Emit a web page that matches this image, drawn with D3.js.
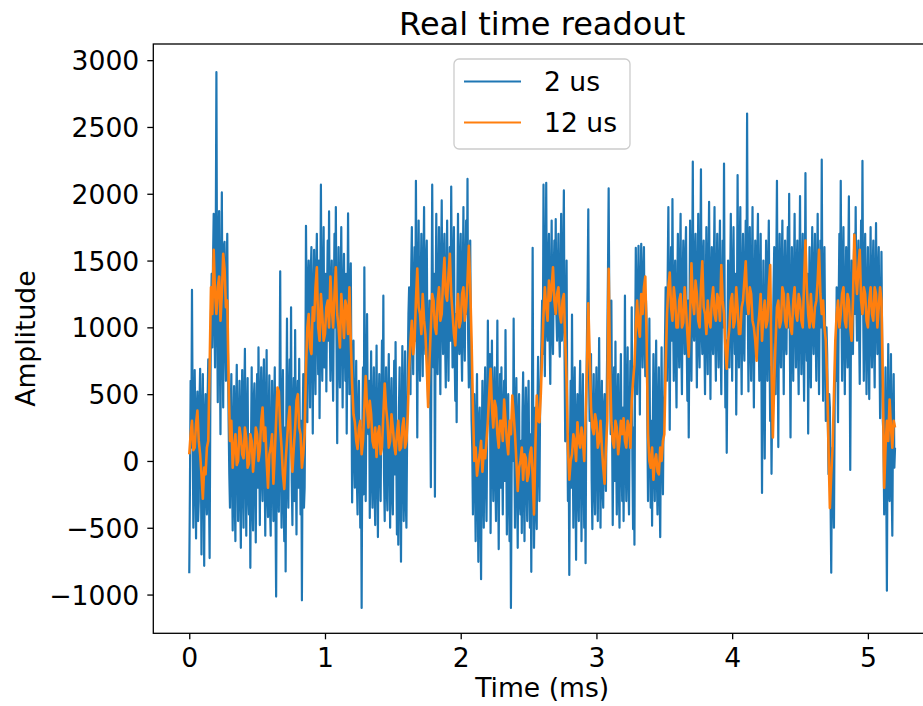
<!doctype html>
<html>
<head>
    <meta charset="utf-8"/>
    <style>
        body { margin: 0; background: #fff; }
        svg { display: block; }
        text { font-family: "DejaVu Sans", sans-serif; fill: #000; }
    </style>
    <script src="https://d3js.org/d3.v7.min.js"></script>
</head>
<body>
<svg width="923" height="706"></svg>
<script>
    // sample spacing (ms) of the two traces as plotted
    var step2us = 0.005;
    var step12us = 0.01;

    // 2 us integration trace, one row per 0.1 ms
    var amp2us = [
        -840, -200, 600, 100, 1280, 300, -500, -100, 680, 200, -580, 350, 520, -450, -300, 400, 690, 100, -700, 250,
        650, 0, -785, 300, 500, -250, -400, 450, 760, -200, -727, 400, 1100, 1400, 850, 1500, 1850, 1100, 700, 1600,
        2910, 1200, 440, 1500, 1870, 900, 200, 1300, 2010, 1000, 400, 1600, 1640, 900, 600, 1400, 1700, 800, 300, -100,
        -350, 300, 650, -100, -520, 200, 560, -300, -600, 400, 720, 50, -450, 250, 600, -200, -650, 350, 680, -150,
        -500, 450, 840, 0, -560, 300, 620, -250, -400, 200, -800, 100, 700, -300, -520, 450, 580, -100, -610, 300,
        650, -200, 850, 200, -480, 400, 700, -100, -300, 500, 760, 0, -560, 350, 830, -250, -420, 300, 640, -350,
        -560, 200, 600, -150, -450, 350, 700, -300, -1015, 100, 520, -200, -380, 400, 1420, 0, -500, 300, 680, -250,
        -600, 250, -827, 300, 1065, -100, -350, 450, 760, 200, 1150, -150, -480, 350, 620, -300, 980, 100, -550, 400,
        600, -200, 764, 150, -400, 300, -1043, 200, 650, -350, -200, 500, 1760, 1100, 290, 1300, 1500, 800, 400, 1400,
        1600, 900, 205, 1200, 1580, 800, 500, 1400, 1700, 1000, 650, 1500, 320, 1100, 2068, 900, 600, 1300, 1750, 700,
        700, 1400, 520, 1200, 1650, 900, 1868, 1000, 600, 1300, 1500, 800, 450, 1200, 1700, 1000, 1900, 900, 133, 1100,
        1600, 800, 550, 1300, 1750, 1000, 400, 1200, 1550, 900, 600, 1400, 205, 1000, 1853, 1100, 500, 1250, 1480, 600,
        -311, 300, 900, 100, -200, 400, 750, -150, -400, 350, 600, 0, -500, 250, -1100, 200, 700, -250, 1450, 400,
        -300, 500, 1100, 300, 200, 600, -426, 250, 820, -100, -350, 400, 700, -200, -480, 300, 864, 50, -570, 350,
        650, 0, -300, 400, 900, 200, 1237, -100, -450, 300, 700, -200, -370, 450, 800, 100, -500, 350, 620, -250,
        -400, 300, 750, -100, 890, 150, -550, 200, -627, 400, 700, -200, -754, 250, 860, 0, -450, 450, 820, -300,
        -500, 200, 700, 1100, 1300, 800, 500, 1400, 1750, 1000, 650, 1300, 1600, 900, 2097, 1100, 176, 1200, 1800, 900,
        600, 1300, 1700, 1000, 635, 1400, 1900, 900, 800, 1500, 1650, 700, 434, 900, 1200, 500, -196, 1000, 2068, 1200,
        700, 1400, -268, 1100, 1850, 900, 650, 1300, 1750, 1000, 500, 1400, 1950, 1100, 800, 1500, 1700, 900, 550, 1300,
        1800, 1000, 600, 1300, 1600, 900, 2054, 1200, 700, 1400, 1750, 800, 450, 1100, 290, 1200, 1850, 1000, 800, 1500,
        1700, 900, 600, 1300, 1900, 1000, 750, 1400, 1800, 1100, 2111, 900, 550, 1200, 1650, 800, 300, 100, -400, 200,
        500, -100, -600, 250, 650, -200, -755, 300, 400, -350, -885, 100, 600, -150, -500, 350, 700, -100, -450, 200,
        1050, 400, 300, 800, -540, 200, 900, 100, -300, 450, 700, -100, -450, 300, 1050, 0, -660, 250, 650, -200,
        700, 100, -400, 350, 600, -150, 980, 200, -550, 300, 500, -250, -600, 200, -1100, -100, 400, 0, 1065, 150,
        -500, 200, 620, -100, -650, 300, 500, -300, -400, 150, -540, 350, 663, -200, -600, 250, 550, -150, -450, 300,
        600, -100, -500, 200, -830, 400, 1595, 100, -650, -200, 400, -300, -510, 350, 780, 0, -300, 450, 650, 900,
        1200, 800, 2068, 1100, 634, 1300, 2082, 1000, 900, 1500, 1700, 900, 577, 1300, 1800, 1000, 800, 1400, 1650, 1100,
        1810, 1100, 900, 1400, 1700, 1000, 780, 1300, 1850, 900, 1000, 1500, 2025, 800, 147, 1000, 1500, 400, -300, 200,
        -853, 100, 600, -200, 1095, 200, -500, 350, 700, -100, -740, 300, 500, -250, -450, 400, 750, 0, -600, 250,
        650, -100, -500, 200, -765, 400, 900, 1300, 1883, 700, 300, 500, 800, -150, -510, 300, 650, -200, -400, 350,
        700, 0, -450, 350, 920, 100, -500, 300, 600, -200, -350, 400, 500, -100, -225, 450, 900, 1400, 2040, 1100,
        700, 200, 1200, 300, -480, 250, 700, -150, 893, 100, -400, 350, 650, -200, -500, 300, 800, 0, -300, 400,
        -450, 200, 1237, 100, -300, 400, 850, -100, -400, 300, 750, 200, 1150, 0, -510, 250, -627, 800, 1595, 1100,
        500, 1200, 1610, 900, 347, 1300, 1625, 1000, 700, 1400, 1600, 900, 635, 1200, 1000, 300, -300, 400, 1065, 100,
        -350, 300, -485, 200, 800, 0, -300, 450, 900, -100, -400, 350, 700, -200, -570, 250, 850, 100, -250, 400,
        500, 900, 1300, 800, 600, 1400, 1900, 1000, 233, 1200, 1600, 900, 1960, 1100, 600, 1300, 1500, 800, 400, 1200,
        1700, 1000, 700, 1400, 1850, 900, 500, 1300, 1650, 1100, 800, 1500, 1750, 900, 450, 1200, 176, 1000, 1800, 1100,
        600, 1300, 2240, 1000, 900, 1500, 1700, 1100, 550, 1300, 1850, 900, 700, 1400, 2183, 1000, 800, 1500, 1650, 900,
        500, 1200, 1750, 1000, 650, 1400, 1940, 1100, 463, 1300, 1600, 900, 800, 1450, 1900, 1000, 600, 1300, 1700, 1000,
        700, 1400, 1800, 900, 500, 1200, 1650, 1000, 2226, 1100, 400, 900, 61, 800, 1500, 1000, 700, 1300, 1850, 1100,
        600, 1300, 1750, 1100, 800, 1400, 347, 1000, 2140, 1200, 700, 1500, 1900, 1000, 500, 1300, 1700, 900, 750, 1400,
        1800, 1100, 2600, 1200, 520, 1300, 1750, 900, 600, 1400, 1900, 1000, 400, 1200, 1650, 900, 800, 1500, 1850, 1000,
        600, 1300, 1700, 800, -240, 900, 1500, 700, 18, 1000, 1650, 1100, 600, 1400, 1800, 900, 300, 700, -96, 500,
        900, 1300, 1600, 1000, 500, 1400, 2097, 1000, 104, 1200, 1700, 900, 700, 1450, 1800, 1100, 500, 1300, 1650, 900,
        800, 1400, 1750, 1000, 2000, 900, 176, 1100, 1600, 1000, 600, 1300, 1850, 1100, 700, 1400, 1650, 900, 500, 1300,
        1982, 1100, 650, 1300, 1700, 900, 450, 1200, 2154, 1000, 750, 1400, 205, 1000, 1600, 900, 550, 1300, 1750, 1000,
        800, 1400, 1700, 1000, 600, 1300, 1850, 1100, 500, 1200, 1650, 1000, 2255, 1100, 450, 1200, 1600, 900, 300, 1000,
        800, 300, -100, 500, 400, -300, -836, 0, 100, -200, -500, 400, 900, 600, 1300, 800, 290, 1200, 1700, 1000,
        2097, 1200, 600, 1300, 1750, 1000, 500, 1200, 1600, 900, 700, 1400, 1980, 1000, -67, 900, 1500, 1100, 800, 1400,
        1700, 1100, 1900, 1200, 900, 1400, 1650, 1000, 577, 1300, 1800, 1100, 2246, 1200, 600, 1300, 1700, 1000, 500, 1200,
        1600, 900, 463, 1200, 1750, 1000, 700, 1400, 1650, 900, 550, 1300, 1780, 1100, 800, 1400, 1600, 900, 320, 1100,
        1566, 900, 300, 200, -400, 300, 700, -100, -971, 200, 875, -200, -300, 400, 800, -150, -560, 300, 650, -50,
        100
    ];

    // 12 us integration trace, one row per 0.1 ms
    var amp12us = [
        50, 200, 300, 80, 100, 280, 377, 150, 50, -100,
        -283, -50, -100, 100, 150, 700, 1300, 1100, 1580, 1250,
        1100, 1300, 1380, 1050, 1250, 1550, 1440, 1150, 1200, 600,
        150, 300, -50, 100, 200, -30, 0, 250, 180, 50,
        20, 250, 170, -50, -20, 200, 150, -80, 50, 250,
        200, 0, 80, 300, 400, 150, 250, 0, -200, 50,
        100, 200, -170, 50, 300, 550, 520, 250, 100, -100,
        -210, 0, 150, 300, 405, 100, -80, 100, 250, 450,
        500, 250, 200, -50, 50, 200, 700, 1000, 1100, 850,
        800, 1150, 1050, 1300, 1450, 1000, 900, 1250, 1100, 900,
        950, 1150, 1200, 1000, 1380, 1150, 1000, 1250, 1450, 1100,
        1000, 850, 1250, 1100, 920, 1200, 1150, 950, 1300, 900,
        580, 350, 290, 150, 90, 250, 300, 50, 150, 400,
        635, 400, 250, 450, 350, 150, 100, 250, 30, 200,
        260, 50, 100, 350, 580, 400, 300, 100, 150, 350,
        250, 120, 50, 200, 300, 80, 100, 250, 320, 100,
        150, 350, 700, 900, 1050, 800, 900, 1200, 1440, 1150,
        1100, 950, 1250, 1050, 950, 700, 405, 750, 1000, 1250,
        1200, 1000, 950, 1200, 1300, 1050, 1100, 1350, 1520, 1250,
        1200, 1400, 1550, 1250, 1100, 950, 864, 1100, 1250, 1000,
        1050, 1250, 1300, 1050, 1150, 1350, 1610, 1300, 900, 400,
        0, 100, -110, -20, 50, 150, -80, 80, 20, 150,
        300, 500, 690, 400, 250, 450, 400, 200, 100, 300,
        300, 150, 460, 300, 150, 50, 300, 200, 490, 350,
        200, 0, -225, -50, 0, 100, -140, 50, 20, -150,
        -100, 50, 100, -100, -400, 100, 490, 300, 290, 500,
        800, 1100, 1300, 1150, 1050, 1350, 1200, 1300, 1450, 1200,
        1100, 1250, 1300, 1100, 1036, 1200, 1250, 900, 600, 100,
        -140, 0, 50, 200, 150, 0, 290, 150, 100, 250,
        150, 0, 320, 700, 1180, 800, 400, 250, 200, 350,
        290, 100, 150, 300, 100, -50, -170, 100, 300, 1438,
        700, 290, 150, 100, 300, 250, 50, 150, 300, 200,
        320, 150, 100, 300, 250, 100, 450, 600, 720, 1000,
        1200, 1000, 930, 1250, 1100, 1300, 1380, 900, 200, 0,
        -50, 100, -140, 0, 50, -80, -100, 100, 0, 150,
        200, 700, 1100, 1300, 1410, 1150, 1050, 1300, 1200, 1000,
        1000, 1200, 1250, 1000, 1036, 1300, 1150, 950, 780, 1100,
        1480, 1200, 1100, 1350, 1250, 1050, 1000, 1300, 1495, 1150,
        1100, 950, 1200, 1050, 1000, 1200, 1300, 1100, 1050, 1250,
        1200, 1050, 1466, 1200, 1100, 850, 690, 900, 1000, 1200,
        1250, 1000, 1050, 1300, 1150, 950, 950, 1150, 1200, 1350,
        1495, 1200, 1100, 1300, 1250, 1050, 1000, 900, 750, 1000,
        1100, 1250, 900, 1100, 1200, 1000, 1050, 1300, 1466, 700,
        176, 600, 900, 1150, 1200, 1000, 1050, 1300, 1250, 1050,
        1000, 1250, 1150, 1000, 950, 1200, 1300, 1100, 1050, 1250,
        1200, 1050, 1000, 1350, 1650, 1300, 1100, 1000, 1250, 1050,
        1000, 1150, 1200, 1350, 1580, 1250, 1100, 1200, 1000, 900,
        600, 100, -352, -100, 100, 500, 900, 1100, 1200, 1000,
        1100, 1250, 1300, 1050, 1000, 1250, 1200, 1000, 900, 1200,
        1693, 1400, 1250, 1450, 1580, 1200, 1100, 1300, 1250, 1050,
        1000, 1200, 1300, 1100, 1050, 1300, 1250, 1000, 1150, 1300,
        1200, 600, -200, 100, 300, 150, 460, 250, 100, 300,
        250
    ];

    var seriesNames = ["2 us", "12 us"];
    var seriesColors = ["#1f77b4", "#ff7f0e"];
    var xTicks = [0, 1, 2, 3, 4, 5];
    var yTicks = [-1000, -500, 0, 500, 1000, 1500, 2000, 2500, 3000];

    var svg = d3.select("svg");

    // axes box (right edge falls just outside the picture)
    var boxL = 153.3, boxR = 931, boxT = 44, boxB = 633.3;

    var x = d3.scaleLinear().domain([-0.265, 5.465]).range([boxL, boxR]);
    var y = d3.scaleLinear().domain([-1290, 3121]).range([boxB, boxT]);

    svg.append("clipPath").attr("id", "plotclip")
        .append("rect")
        .attr("x", boxL).attr("y", boxT)
        .attr("width", boxR - boxL).attr("height", boxB - boxT);

    var traces = [
        amp2us.map(function(v, i) { return [i * step2us, v]; }),
        amp12us.map(function(v, i) { return [i * step12us, v]; })
    ];
    var widths = [2.2, 2.6];

    var line = d3.line()
        .x(function(d) { return x(d[0]); })
        .y(function(d) { return y(d[1]); });

    svg.append("g").attr("clip-path", "url(#plotclip)")
        .selectAll("path")
        .data(traces)
        .join("path")
        .attr("d", line)
        .attr("fill", "none")
        .attr("stroke", function(d, i) { return seriesColors[i]; })
        .attr("stroke-width", function(d, i) { return widths[i]; })
        .attr("stroke-linejoin", "round");

    // spines
    svg.append("rect")
        .attr("x", boxL).attr("y", boxT)
        .attr("width", boxR - boxL).attr("height", boxB - boxT)
        .attr("fill", "none")
        .attr("stroke", "#000")
        .attr("stroke-width", 1.3);

    var fmt = d3.format("d");

    var xAxis = svg.append("g")
        .attr("transform", "translate(0," + boxB + ")")
        .call(d3.axisBottom(x).tickValues(xTicks).tickFormat(fmt)
            .tickSize(6).tickSizeOuter(0).tickPadding(9));

    var yAxis = svg.append("g")
        .attr("transform", "translate(" + boxL + ",0)")
        .call(d3.axisLeft(y).tickValues(yTicks).tickFormat(fmt)
            .tickSize(6).tickSizeOuter(0).tickPadding(8));

    [xAxis, yAxis].forEach(function(g) {
        g.select(".domain").remove();
        g.attr("font-family", null).attr("font-size", null);
        g.selectAll(".tick line").attr("stroke", "#000").attr("stroke-width", 1.3);
        g.selectAll(".tick text").style("font-size", "26.6px").attr("fill", "#000");
    });
    yAxis.selectAll(".tick text").attr("dy", "0.36em");

    // title and axis labels
    svg.append("text")
        .attr("x", (boxL + boxR) / 2).attr("y", 35)
        .attr("text-anchor", "middle")
        .style("font-size", "32px")
        .text("Real time readout");

    svg.append("text")
        .attr("x", (boxL + boxR) / 2).attr("y", 697)
        .attr("text-anchor", "middle")
        .style("font-size", "26.6px")
        .text("Time (ms)");

    svg.append("text")
        .attr("transform", "translate(35," + (boxT + boxB) / 2 + ") rotate(-90)")
        .attr("text-anchor", "middle")
        .style("font-size", "26.6px")
        .text("Amplitude");

    // legend
    var legend = svg.append("g").attr("transform", "translate(454,59)");
    legend.append("rect")
        .attr("x", 0).attr("y", 0)
        .attr("width", 176).attr("height", 90)
        .attr("rx", 5).attr("ry", 5)
        .attr("fill", "rgba(255,255,255,0.8)")
        .attr("stroke", "#cccccc")
        .attr("stroke-width", 1.3);

    var item = legend.selectAll(".item")
        .data(seriesNames)
        .join("g")
        .attr("class", "item")
        .attr("transform", function(d, i) { return "translate(0," + (22.5 + i * 41) + ")"; });

    item.append("line")
        .attr("x1", 10).attr("x2", 67)
        .attr("stroke", function(d, i) { return seriesColors[i]; })
        .attr("stroke-width", 2.2);

    item.append("text")
        .attr("x", 90).attr("dy", "0.36em")
        .style("font-size", "26.6px")
        .text(function(d) { return d; });
</script>
</body>
</html>
